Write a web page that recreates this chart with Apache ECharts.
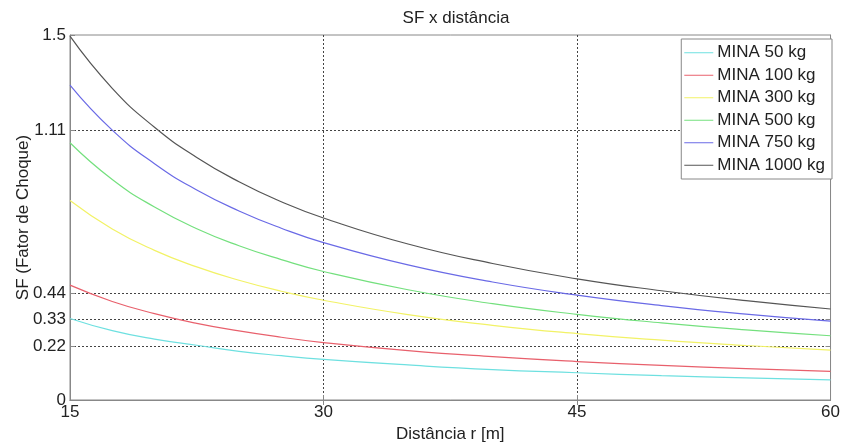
<!DOCTYPE html>
<html>
<head>
<meta charset="utf-8">
<script src="https://cdn.jsdelivr.net/npm/echarts@6/dist/echarts.min.js"></script>
<style>
  html, body { margin: 0; padding: 0; background: #fff; }
  #chart { width: 843px; height: 448px; }
</style>
</head>
<body>
<div id="chart"></div>
<script>
// distances r [m]
const distances = [15, 17.5, 20, 22.5, 25, 27.5, 30, 35, 40, 45, 50, 55, 60];

// SF, one list per mine
const mina50 = [0.335, 0.285, 0.25, 0.225, 0.2, 0.182, 0.167, 0.144, 0.125, 0.112, 0.1, 0.091, 0.083];
const mina100 = [0.472, 0.405, 0.355, 0.315, 0.284, 0.258, 0.236, 0.203, 0.178, 0.158, 0.142, 0.129, 0.118];
const mina300 = [0.82, 0.703, 0.615, 0.547, 0.492, 0.447, 0.41, 0.351, 0.307, 0.273, 0.246, 0.224, 0.205];
const mina500 = [1.057, 0.906, 0.793, 0.704, 0.634, 0.577, 0.528, 0.453, 0.396, 0.352, 0.317, 0.288, 0.264];
const mina750 = [1.294, 1.109, 0.971, 0.863, 0.777, 0.706, 0.647, 0.555, 0.485, 0.431, 0.388, 0.353, 0.324];
const mina1000 = [1.495, 1.281, 1.121, 0.997, 0.897, 0.815, 0.748, 0.641, 0.561, 0.498, 0.449, 0.408, 0.374];

const seriesNames = ['MINA 50 kg', 'MINA 100 kg', 'MINA 300 kg', 'MINA 500 kg', 'MINA 750 kg', 'MINA 1000 kg'];
const seriesColors = ['#6ee0e0', '#e8606c', '#f2f266', '#74e07e', '#6a6ae6', '#555555'];
const yTicks = [0, 0.22, 0.33, 0.44, 1.11, 1.5];
const yGrid = [0.22, 0.33, 0.44, 1.11];
const xGrid = [30, 45];

const font = 'Liberation Sans, Arial, sans-serif';
const allValues = [mina50, mina100, mina300, mina500, mina750, mina1000];

const gridLine = { show: true, lineStyle: { color: '#444', type: [2, 2], width: 1 } };
const frameLine = { show: true, lineStyle: { color: '#888', width: 1 } };
const innerTick = { show: true, inside: true, length: 5, lineStyle: { color: '#888' } };
const labelStyle = { fontFamily: font, fontSize: 17, color: '#222' };

const chart = echarts.init(document.getElementById('chart'));
chart.setOption({
    animation: false,
    title: {
        text: 'SF x distância',
        left: 451, top: 5,
        textAlign: 'center',
        textStyle: Object.assign({ fontWeight: 'normal' }, labelStyle)
    },
    grid: {
        left: 70, right: 10, top: 35, bottom: 44,
        show: true, borderColor: '#888', borderWidth: 1, backgroundColor: '#fff'
    },
    legend: {
        orient: 'vertical',
        right: 11, top: 39,
        padding: [5, 7, 5, 3],
        itemGap: 5,
        itemWidth: 29, itemHeight: 1,
        icon: 'rect',
        borderColor: '#888', borderWidth: 1,
        backgroundColor: '#fff',
        data: seriesNames,
        textStyle: Object.assign({ lineHeight: 17.5, padding: [0, 0, 0, -1] }, labelStyle)
    },
    xAxis: [{
        type: 'value',
        min: 15, max: 60, interval: 15,
        name: 'Distância r [m]',
        nameLocation: 'middle', nameGap: 26,
        nameTextStyle: labelStyle,
        axisLine: frameLine,
        axisTick: innerTick,
        axisLabel: Object.assign({ margin: 4 }, labelStyle),
        splitLine: { show: false }
    }, {
        type: 'value', position: 'top',
        min: 15, max: 60, interval: 15,
        axisLine: frameLine,
        axisTick: Object.assign({ customValues: xGrid }, innerTick),
        axisLabel: { show: false },
        splitLine: gridLine
    }],
    yAxis: [{
        type: 'value',
        min: 0, max: 1.5,
        name: 'SF (Fator de Choque)',
        nameLocation: 'middle', nameGap: 38,
        nameMoveOverlap: false,
        nameTextStyle: labelStyle,
        axisLine: frameLine,
        axisTick: Object.assign({ customValues: yTicks }, innerTick),
        axisLabel: Object.assign({ customValues: yTicks, margin: 4 }, labelStyle),
        splitLine: { show: false }
    }, {
        type: 'value', position: 'right',
        min: 0, max: 1.5,
        axisLine: frameLine,
        axisTick: Object.assign({ customValues: yGrid }, innerTick),
        axisLabel: { show: false },
        splitLine: gridLine
    }],
    series: seriesNames.map((name, i) => ({
        name,
        type: 'line',
        smooth: true,
        symbol: 'none',
        color: seriesColors[i],
        lineStyle: { width: 1.2, color: seriesColors[i] },
        data: distances.map((d, j) => [d, allValues[i][j]])
    }))
});
</script>
</body>
</html>
